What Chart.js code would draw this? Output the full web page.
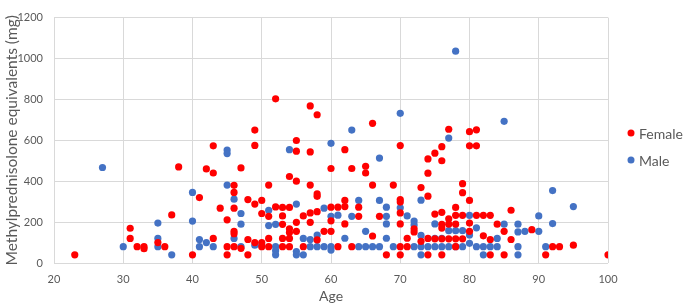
<!DOCTYPE html>
<html>
<head>
<meta charset="utf-8">
<script src="https://cdn.jsdelivr.net/npm/chart.js@4/dist/chart.umd.min.js"></script>
<style>
  html, body { margin: 0; padding: 0; background: #fff; }
  #wrap { width: 685px; height: 306px; }
</style>
</head>
<body>
<div id="wrap"><canvas id="myChart" width="685" height="306"></canvas></div>
<script>
// data (age, dose in mg)
var femaleAge = [23,31,31,32,33,33,35,36,37,38,40,41,42,43,43,43,44,45,45,45,46,46,46,46,46,46,47,47,48,48,48,
  49,49,49,49,50,50,50,50,51,51,51,51,52,52,53,53,53,53,53,54,54,54,54,54,54,55,55,55,55,55,56,56,
  57,57,57,57,57,58,58,58,58,58,59,60,60,60,60,61,61,62,62,62,62,63,63,64,64,65,65,66,66,66,67,68,69,
  70,70,70,70,70,70,70,71,71,72,72,73,73,74,74,74,74,74,75,75,75,76,76,76,76,76,76,76,77,77,77,77,
  78,78,78,78,78,79,79,79,79,80,80,80,80,80,81,81,81,82,82,83,83,83,84,85,85,86,86,89,91,92,93,95,100];
var femaleDose = [40,170,120,80,80,70,100,80,235,470,40,320,460,440,573,120,268,211,80,40,380,345,268,155,143,80,465,72,310,115,40,
  650,575,288,100,306,242,100,80,381,228,120,80,803,274,272,230,189,120,80,423,272,167,149,120,80,599,547,400,199,155,230,80,
  768,543,381,245,199,725,338,326,251,113,155,462,273,206,155,273,80,554,306,276,191,462,80,273,228,473,440,683,381,132,228,40,381,
  574,310,298,245,191,80,40,80,121,167,152,369,106,509,439,327,120,40,537,239,118,569,500,248,189,171,118,40,654,216,190,118,
  272,233,190,118,80,388,344,233,118,642,573,306,195,155,651,573,233,233,133,233,115,40,190,155,40,258,115,163,40,80,80,87,40];

var maleAge = [27,30,35,35,35,37,40,40,41,41,42,43,45,45,45,46,46,47,47,47,49,50,51,51,52,52,52,52,54,55,55,55,
  56,56,57,57,58,58,59,59,60,60,60,60,61,62,63,63,64,64,65,65,66,67,67,67,68,68,68,68,69,70,70,71,
  72,72,72,73,73,73,73,74,75,75,75,76,76,77,77,77,78,78,78,79,79,80,80,80,81,81,82,82,83,84,84,
  85,85,87,87,87,87,88,90,90,91,92,92,95];
var maleDose = [467,80,195,120,80,40,345,205,115,80,100,80,552,535,381,312,120,242,190,80,87,87,258,183,189,80,60,40,554,288,56,40,
  120,40,115,80,137,80,268,80,585,228,80,63,234,121,650,228,306,80,155,80,80,513,306,80,273,228,191,121,80,732,270,230,
  205,186,80,307,135,80,40,80,191,121,80,121,80,611,158,80,1036,158,80,158,80,233,137,96,172,80,80,40,80,120,80,
  693,190,190,152,80,40,155,230,155,80,354,193,276];

var xTicks = [20,30,40,50,60,70,80,90,100];
var yTicks = [0,200,400,600,800,1000,1200];

function toPoints(xs, ys) {
  return xs.map(function(x, i) { return {x: x, y: ys[i]}; });
}

var FONT = 'Lato, "Open Sans", sans-serif';
var GREY = '#595959';

// legend drawn to the right of the plot, like the original
var sideLegend = {
  id: 'sideLegend',
  afterDraw: function(chart) {
    var c = chart.ctx;
    var x0 = chart.chartArea.right + 23;
    var y0 = 133;
    c.save();
    c.font = '14px ' + FONT;
    c.textBaseline = 'middle';
    chart.data.datasets.forEach(function(ds, i) {
      var y = y0 + i * 27;
      c.beginPath();
      c.fillStyle = ds.backgroundColor;
      c.arc(x0, y, 3.5, 0, Math.PI * 2);
      c.fill();
      c.fillStyle = GREY;
      c.fillText(ds.label, x0 + 8, y + 1);
    });
    c.restore();
  }
};

var ctx = document.getElementById("myChart").getContext('2d');
var myChart = new Chart(ctx, {
  type: 'scatter',
  data: {
    datasets: [{
      label: 'Female',
      data: toPoints(femaleAge, femaleDose),
      backgroundColor: '#FF0000',
      borderWidth: 0,
      pointRadius: 3.6
    }, {
      label: 'Male',
      data: toPoints(maleAge, maleDose),
      backgroundColor: '#4472C4',
      borderWidth: 0,
      pointRadius: 3.6
    }]
  },
  options: {
    responsive: false,
    animation: false,
    layout: { padding: { top: 5, right: 77, left: 0, bottom: 0 } },
    plugins: { legend: { display: false }, tooltip: { enabled: false } },
    scales: {
      x: {
        type: 'linear',
        min: 20, max: 100,
        afterBuildTicks: function(s) { s.ticks = xTicks.map(function(v) { return {value: v}; }); },
        afterFit: function(s) { s.height = 43; },
        grid: { color: '#d9d9d9', drawTicks: false },
        border: { display: false },
        ticks: { color: GREY, font: { family: FONT, size: 11 }, padding: 10, maxRotation: 0,
          callback: function(v) { return String(v); } },
        title: { display: true, text: 'Age', color: GREY, font: { family: FONT, size: 14 }, padding: { top: 2, bottom: 1 } }
      },
      y: {
        min: 0, max: 1200,
        afterBuildTicks: function(s) { s.ticks = yTicks.map(function(v) { return {value: v}; }); },
        afterFit: function(s) { s.width = 54; },
        grid: { color: '#d9d9d9', drawTicks: false },
        border: { display: false },
        ticks: { color: GREY, font: { family: FONT, size: 11 }, padding: 11,
          callback: function(v) { return String(v); } },
        title: { display: true, text: 'Methylprednisolone equivalents (mg)', color: GREY, font: { family: FONT, size: 15.5 }, padding: { top: 3, bottom: 2 } }
      }
    }
  },
  plugins: [sideLegend]
});
</script>
</body>
</html>
